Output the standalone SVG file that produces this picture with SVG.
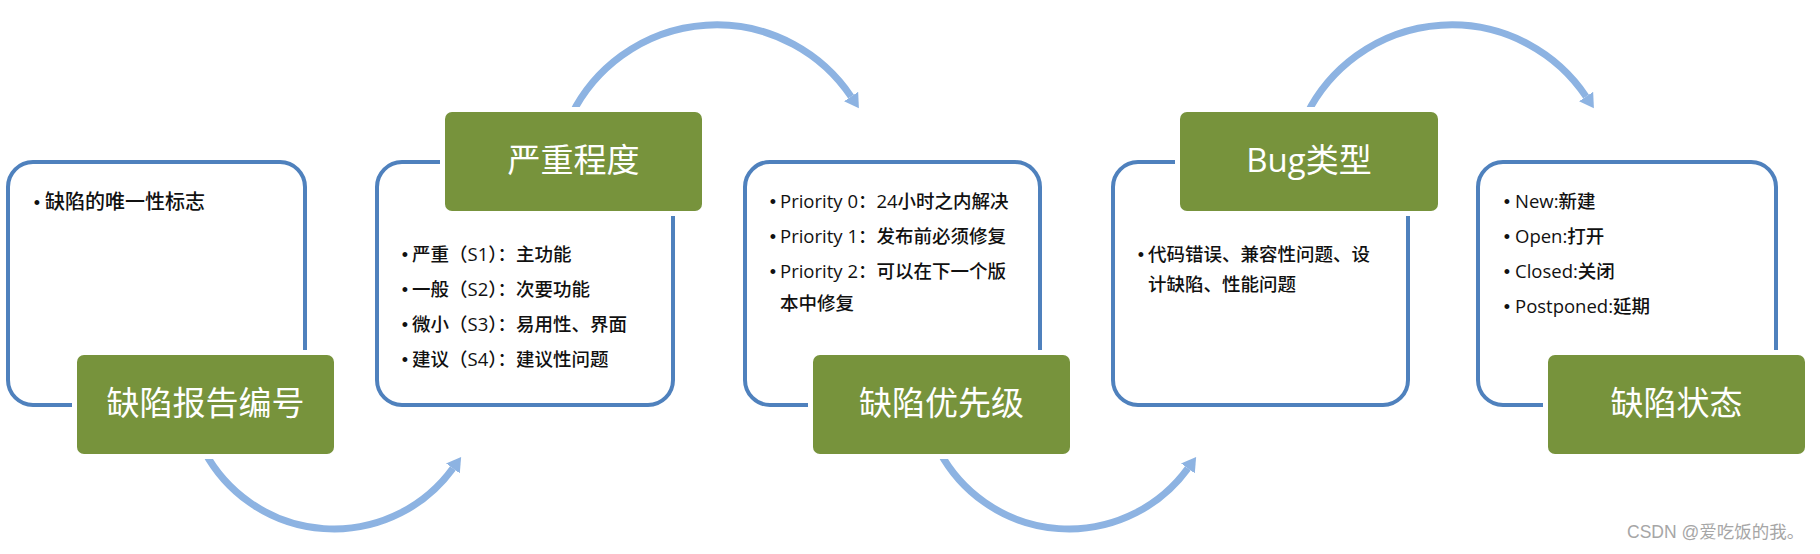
<svg xmlns="http://www.w3.org/2000/svg" width="1820" height="554" viewBox="0 0 1820 554">
<style>
.frame{fill:#ffffff;stroke:#4F81BD;stroke-width:4}
.mask{fill:#ffffff}
.head{fill:#77933C}
.title{font-family:"Open Sans","Noto Sans CJK SC",sans-serif;font-size:33px;fill:#ffffff;text-anchor:middle}
.item{font-family:"Open Sans","Noto Sans CJK SC",sans-serif;font-size:18.5px;font-weight:500;fill:#111111}
.big{font-size:20px}
.dot{font-family:"Liberation Sans",sans-serif;font-size:18px;fill:#111111;text-anchor:middle}
.arc{fill:none;stroke:#8DB3E2;stroke-width:7;marker-end:url(#ah)}
.wm{font-family:"Liberation Sans","Noto Sans CJK SC",sans-serif;font-size:17.5px;fill:#a6a6a6}
</style>
<defs>
<marker id="ah" markerUnits="userSpaceOnUse" markerWidth="20" markerHeight="20" viewBox="0 -10 20 20" refX="0" refY="0" orient="auto">
<path d="M0,-8.5 L14,0 L0,8.5 z" fill="#8DB3E2"/>
</marker>
</defs>
<rect width="1820" height="554" fill="#ffffff"/>

<g id="connectors">
<path class="arc" d="M204.2,451 A147,147 0 0 0 452.9,468.4"/>
<path class="arc" d="M571.4,115 A162,162 0 0 1 851.1,96.6"/>
<path class="arc" d="M939.2,451 A147,147 0 0 0 1187.9,468.4"/>
<path class="arc" d="M1306.4,115 A162,162 0 0 1 1586.1,96.6"/>
</g>

<g id="node1">
<rect class="frame" x="8" y="162" width="297" height="243" rx="25"/>
<rect class="mask" x="72" y="350" width="267" height="109" rx="10"/>
<rect class="head" x="77" y="355" width="257" height="99" rx="7"/>
<text class="title" x="205.5" y="415">缺陷报告编号</text>
<text class="dot" x="37" y="209">•</text>
<text class="item big" x="45" y="209">缺陷的唯一性标志</text>
</g>

<g id="node2">
<rect class="frame" x="377" y="162" width="296" height="243" rx="25"/>
<rect class="mask" x="440" y="107" width="267" height="109" rx="10"/>
<rect class="head" x="445" y="112" width="257" height="99" rx="7"/>
<text class="title" x="573.5" y="172">严重程度</text>
<text class="dot" x="405" y="261">•</text>
<text class="item" x="412" y="261">严重（S1）：主功能</text>
<text class="dot" x="405" y="296">•</text>
<text class="item" x="412" y="296">一般（S2）：次要功能</text>
<text class="dot" x="405" y="331">•</text>
<text class="item" x="412" y="331">微小（S3）：易用性、界面</text>
<text class="dot" x="405" y="366">•</text>
<text class="item" x="412" y="366">建议（S4）：建议性问题</text>
</g>

<g id="node3">
<rect class="frame" x="745" y="162" width="295" height="243" rx="25"/>
<rect class="mask" x="808" y="350" width="267" height="109" rx="10"/>
<rect class="head" x="813" y="355" width="257" height="99" rx="7"/>
<text class="title" x="941.5" y="415">缺陷优先级</text>
<text class="dot" x="773" y="208">•</text>
<text class="item" x="780" y="208">Priority 0：24小时之内解决</text>
<text class="dot" x="773" y="243">•</text>
<text class="item" x="780" y="243">Priority 1：发布前必须修复</text>
<text class="dot" x="773" y="278">•</text>
<text class="item" x="780" y="278">Priority 2：可以在下一个版</text>
<text class="item" x="780" y="310">本中修复</text>
</g>

<g id="node4">
<rect class="frame" x="1113" y="162" width="295" height="243" rx="25"/>
<rect class="mask" x="1175" y="107" width="268" height="109" rx="10"/>
<rect class="head" x="1180" y="112" width="258" height="99" rx="7"/>
<text class="title" x="1309" y="172">Bug类型</text>
<text class="dot" x="1141" y="261">•</text>
<text class="item" x="1148" y="261">代码错误、兼容性问题、设</text>
<text class="item" x="1148" y="291">计缺陷、性能问题</text>
</g>

<g id="node5">
<rect class="frame" x="1478" y="162" width="298" height="243" rx="25"/>
<rect class="mask" x="1543" y="350" width="267" height="109" rx="10"/>
<rect class="head" x="1548" y="355" width="257" height="99" rx="7"/>
<text class="title" x="1676.5" y="415">缺陷状态</text>
<text class="dot" x="1507" y="208">•</text>
<text class="item" x="1515" y="208">New:新建</text>
<text class="dot" x="1507" y="243">•</text>
<text class="item" x="1515" y="243">Open:打开</text>
<text class="dot" x="1507" y="278">•</text>
<text class="item" x="1515" y="278">Closed:关闭</text>
<text class="dot" x="1507" y="313">•</text>
<text class="item" x="1515" y="313">Postponed:延期</text>
</g>

<text class="wm" x="1627" y="538">CSDN @爱吃饭的我。</text>
</svg>
